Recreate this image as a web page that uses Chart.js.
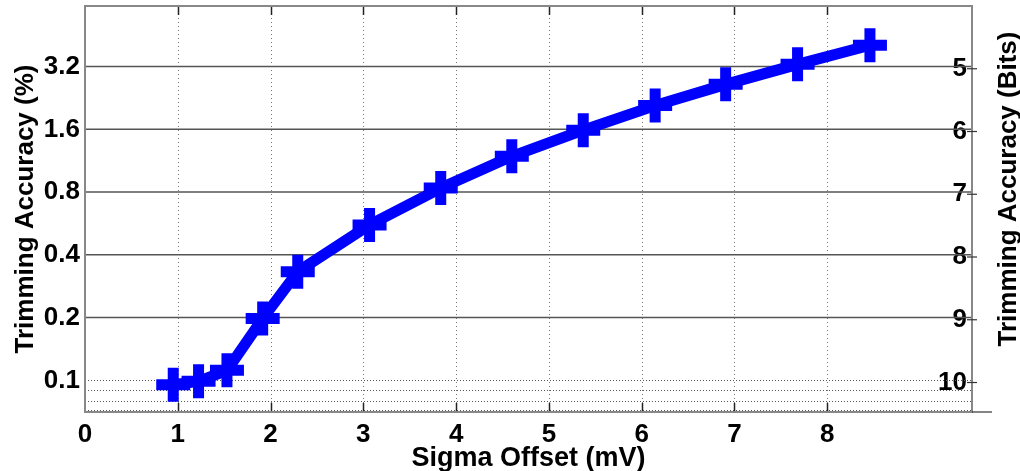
<!DOCTYPE html>
<html>
<head>
<meta charset="utf-8">
<script src="https://cdn.jsdelivr.net/npm/chart.js@4/dist/chart.umd.min.js"></script>
<style>
  html, body { margin: 0; padding: 0; background: #fff; }
  #wrap { width: 1020px; height: 471px; position: relative; }
</style>
</head>
<body>
<div id="wrap"><canvas id="c" width="1020" height="471"></canvas></div>
<script>
// ---- data ----
const sigmaOffset = [0.951, 1.224, 1.53, 1.915, 2.293, 3.067, 3.834, 4.60, 5.37, 6.145, 6.905, 7.68, 8.46];
const accuracyPct = [0.0953, 0.0989, 0.1117, 0.198, 0.332, 0.557, 0.837, 1.188, 1.585, 2.08, 2.63, 3.28, 4.05];
const xTickValues = [0, 1, 2, 3, 4, 5, 6, 7, 8];
const yTickValues = [0.1, 0.2, 0.4, 0.8, 1.6, 3.2];
const bitTickValues = [5, 6, 7, 8, 9, 10];
const yMinorGrid = [0.1, 0.09, 0.08];
const xMax = 9.56;
const bitsMin = 4, bitsMax = 10.47;
const yMax = 100 / Math.pow(2, bitsMin);
const yMin = 100 / Math.pow(2, bitsMax);

const FONT = '"Liberation Sans", Arial, sans-serif';

function noPad(s) { s.paddingTop = 0; s.paddingBottom = 0; s.paddingLeft = 0; s.paddingRight = 0; }

const decor = {
  id: 'decor',
  beforeDatasetsDraw(chart) {
    const {ctx, chartArea: a, scales} = chart;
    const xs = scales.x, ys = scales.y;
    ctx.save();
    ctx.strokeStyle = '#777';
    ctx.lineWidth = 1;
    ctx.setLineDash([1, 3]);
    xTickValues.forEach(v => {
      if (v === 0) return;
      const px = Math.round(xs.getPixelForValue(v)) + 0.5;
      ctx.beginPath(); ctx.moveTo(px, a.top); ctx.lineTo(px, a.bottom); ctx.stroke();
    });
    ctx.strokeStyle = '#555';
    ctx.setLineDash([1, 2]);
    yMinorGrid.forEach(v => {
      const py = Math.round(ys.getPixelForValue(v)) + 0.5;
      ctx.beginPath(); ctx.moveTo(a.left, py); ctx.lineTo(a.right, py); ctx.stroke();
    });
    ctx.beginPath(); ctx.moveTo(a.left, a.bottom - 1.5); ctx.lineTo(a.right, a.bottom - 1.5); ctx.stroke();
    ctx.setLineDash([]);
    ctx.strokeStyle = '#555';
    ctx.lineWidth = 1.5;
    yTickValues.forEach(v => {
      if (yMinorGrid.includes(v)) return;
      const py = ys.getPixelForValue(v);
      ctx.beginPath(); ctx.moveTo(a.left, py); ctx.lineTo(a.right, py); ctx.stroke();
    });
    ctx.strokeStyle = '#222';
    ctx.lineWidth = 1.5;
    xTickValues.forEach(v => {
      if (v === 0) return;
      const px = Math.round(xs.getPixelForValue(v)) + 0.5;
      ctx.beginPath(); ctx.moveTo(px, a.bottom); ctx.lineTo(px, a.bottom - 9); ctx.stroke();
      ctx.beginPath(); ctx.moveTo(px, a.top); ctx.lineTo(px, a.top + 9); ctx.stroke();
    });
    ctx.restore();
  },
  afterDatasetsDraw(chart) {
    const {ctx, chartArea: a, scales} = chart;
    const rs = scales.yBits;
    ctx.save();
    ctx.strokeStyle = '#888';
    ctx.lineWidth = 2;
    ctx.strokeRect(a.left, a.top, a.right - a.left, a.bottom - a.top);
    ctx.strokeStyle = '#333';
    ctx.lineWidth = 1.2;
    bitTickValues.forEach(v => {
      const py = rs.getPixelForValue(v);
      ctx.beginPath(); ctx.moveTo(a.right - 5, py); ctx.lineTo(a.right + 5, py); ctx.stroke();
    });
    ctx.beginPath(); ctx.moveTo(a.right, a.bottom); ctx.lineTo(a.right + 20, a.bottom); ctx.stroke();
    ctx.fillStyle = '#000';
    ctx.font = 'bold 26px ' + FONT;
    ctx.textAlign = 'center';
    ctx.textBaseline = 'alphabetic';
    ctx.save();
    ctx.translate(33, (a.top + a.bottom) / 2);
    ctx.rotate(-Math.PI / 2);
    ctx.fillText('Trimming Accuracy (%)', 0, 0);
    ctx.restore();
    ctx.save();
    ctx.translate(1016, 189);
    ctx.rotate(-Math.PI / 2);
    ctx.fillText('Trimming Accuracy (Bits)', 0, 0);
    ctx.restore();
    ctx.font = 'bold 27px ' + FONT;
    ctx.fillText('Sigma Offset (mV)', (a.left + a.right) / 2, 466);
    ctx.restore();
  }
};

new Chart(document.getElementById('c'), {
  type: 'line',
  data: {
    datasets: [{
      data: sigmaOffset.map((x, i) => ({x, y: accuracyPct[i]})),
      borderColor: '#0000ff',
      backgroundColor: '#0000ff',
      borderWidth: 11,
      borderJoinStyle: 'round',
      tension: 0,
      pointStyle: 'cross',
      pointRadius: 17,
      pointHoverRadius: 17,
      pointBorderWidth: 11,
      pointHoverBorderWidth: 11,
      pointBorderColor: '#0000ff',
      yAxisID: 'y',
      clip: false
    }]
  },
  plugins: [decor],
  options: {
    responsive: false,
    devicePixelRatio: 1,
    animation: false,
    layout: { autoPadding: false, padding: { top: 6, left: 0, right: 0, bottom: 0 } },
    plugins: { legend: { display: false }, tooltip: { enabled: false } },
    events: [],
    scales: {
      x: {
        type: 'linear', position: 'bottom', min: 0, max: xMax,
        afterBuildTicks: s => { s.ticks = xTickValues.map(v => ({value: v})); },
        afterFit: s => { s.height = 59; noPad(s); },
        grid: { display: false, drawTicks: false },
        border: { display: false },
        ticks: { color: '#000', padding: 7, maxRotation: 0, autoSkip: false,
                 font: { family: FONT, size: 26, weight: 'bold' } }
      },
      y: {
        type: 'logarithmic', position: 'left', min: yMin, max: yMax,
        afterBuildTicks: s => { s.ticks = yTickValues.map(v => ({value: v})); },
        afterFit: s => { s.width = 85; noPad(s); },
        grid: { display: false, drawTicks: false },
        border: { display: false },
        ticks: { color: '#000', padding: 5, autoSkip: false,
                 callback: v => String(v),
                 font: { family: FONT, size: 26, weight: 'bold' } }
      },
      yBits: {
        type: 'linear', position: 'right', min: bitsMin, max: bitsMax, reverse: true,
        afterBuildTicks: s => { s.ticks = bitTickValues.map(v => ({value: v})); },
        afterFit: s => { s.width = 48; noPad(s); },
        grid: { display: false, drawTicks: false },
        border: { display: false },
        ticks: { color: '#000', mirror: true, padding: -5, autoSkip: false,
                 callback: v => String(v),
                 font: { family: FONT, size: 26, weight: 'bold' } }
      }
    }
  }
});
</script>
</body>
</html>
